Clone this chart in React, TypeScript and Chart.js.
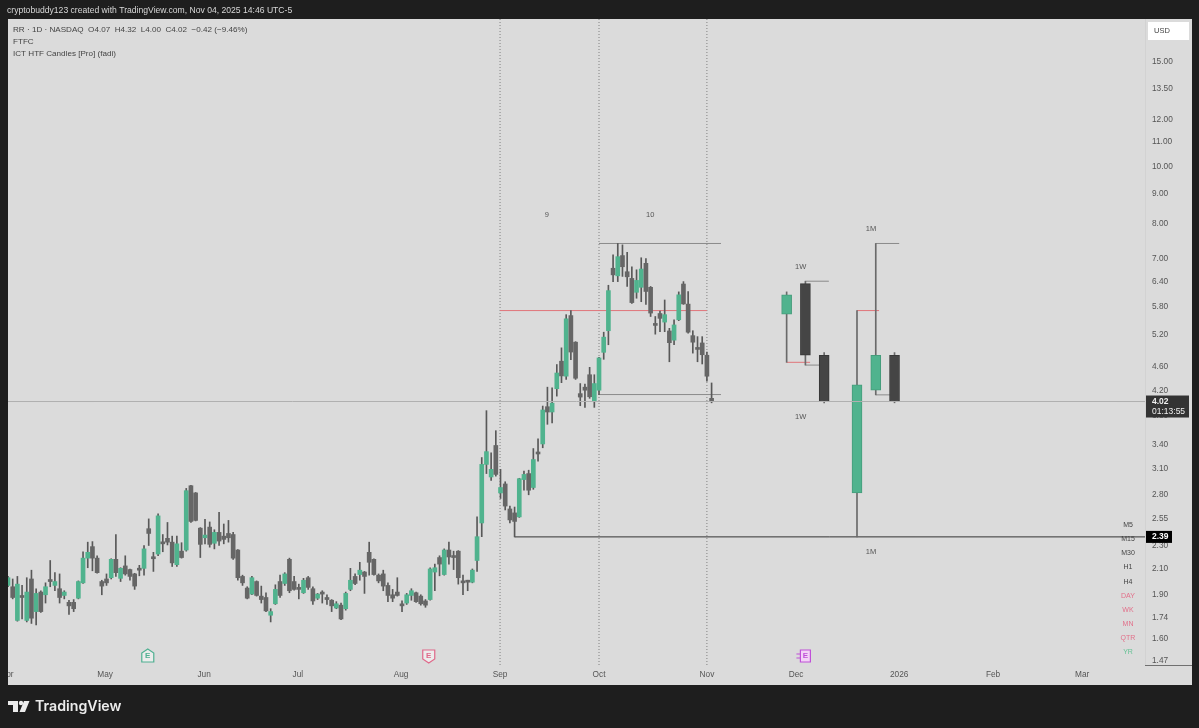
import React, { useEffect, useRef } from "react";
import { Chart, registerables } from "chart.js";

Chart.register(...registerables);

const opens = [
  1.97,1.96,1.72,1.89,1.72,2.02,1.78,1.92,1.90,2.01,
  1.97,1.945,1.895,1.845,1.845,1.875,1.99,2.19,2.29,2.19,
  2.00,2.02,2.03,2.18,2.025,2.125,2.095,2.06,2.10,2.105,
  2.455,2.195,2.225,2.325,2.365,2.33,2.135,2.25,2.26,2.90,
  2.82,2.46,2.37,2.47,2.32,2.42,2.385,2.41,2.40,2.26,
  2.04,1.95,1.905,2.00,1.89,1.88,1.755,1.835,2.00,1.985,
  2.18,2.00,1.95,1.915,2.03,1.945,1.875,1.91,1.88,1.86,
  1.805,1.825,1.80,1.94,2.04,2.055,2.075,2.24,2.18,2.05,
  2.06,1.97,1.90,1.92,1.825,1.84,1.895,1.915,1.89,1.855,
  1.865,2.075,2.195,2.055,2.26,2.205,2.25,2.00,2.005,1.995,
  2.17,2.51,3.15,3.00,3.39,2.82,2.92,2.65,2.61,2.57,
  2.97,3.04,2.88,3.295,3.41,3.94,3.86,4.225,4.70,4.435,
  5.61,5.06,4.145,4.25,4.46,4.02,4.20,4.865,5.29,6.74,
  6.545,7.08,6.65,6.48,6.14,6.26,6.87,6.26,5.44,5.655,
  5.47,5.285,5.10,5.52,6.34,5.865,5.19,4.955,5.045,4.81,
  4.07,
];
const closes = [
  2.03,1.88,1.98,1.88,1.92,1.735,1.91,1.78,1.96,2.00,
  2.00,1.88,1.92,1.82,1.80,2.00,2.19,2.24,2.19,2.07,
  1.965,1.99,2.18,2.07,2.105,2.06,2.04,1.965,2.09,2.27,
  2.41,2.185,2.58,2.315,2.33,2.15,2.315,2.195,2.845,2.525,
  2.535,2.31,2.395,2.31,2.42,2.34,2.355,2.37,2.19,2.03,
  1.99,1.875,2.03,1.895,1.865,1.785,1.78,1.94,1.895,2.06,
  1.93,1.94,1.94,2.01,1.955,1.855,1.905,1.905,1.865,1.82,
  1.835,1.73,1.91,2.01,1.985,2.09,2.04,2.155,2.055,2.005,
  1.965,1.895,1.875,1.895,1.82,1.90,1.93,1.85,1.835,1.825,
  2.10,2.11,2.14,2.26,2.20,2.195,2.03,1.99,1.995,2.09,
  2.38,3.15,3.31,3.09,3.03,2.88,2.68,2.54,2.525,2.98,
  3.03,2.85,3.21,3.28,3.89,3.86,3.995,4.49,4.44,5.54,
  4.87,4.40,4.09,4.20,4.095,4.31,4.76,5.16,6.18,6.57,
  7.05,6.78,6.52,5.90,6.43,6.72,6.16,5.665,5.40,5.55,
  5.63,5.05,5.41,6.08,5.87,5.26,5.06,4.92,4.82,4.435,
  4.02,
];
const highs = [
  2.04,2.02,2.04,1.97,2.03,2.09,1.945,1.93,1.99,2.17,
  2.07,2.06,1.93,1.86,1.865,2.005,2.245,2.33,2.335,2.21,
  2.01,2.06,2.185,2.40,2.11,2.21,2.10,2.065,2.13,2.30,
  2.55,2.24,2.60,2.40,2.515,2.385,2.385,2.325,2.87,2.905,
  2.825,2.465,2.545,2.52,2.445,2.615,2.50,2.535,2.42,2.265,
  2.05,1.96,2.04,2.005,1.965,1.915,1.80,1.975,2.05,2.07,
  2.19,2.04,1.98,2.025,2.04,1.96,1.91,1.93,1.90,1.865,
  1.85,1.84,1.92,2.105,2.06,2.155,2.08,2.33,2.185,2.06,
  2.09,1.99,1.94,2.03,1.855,1.91,1.945,1.92,1.90,1.865,
  2.11,2.14,2.21,2.27,2.33,2.25,2.255,2.05,2.01,2.10,
  2.57,3.235,3.88,3.295,3.59,3.09,2.945,2.68,2.67,2.985,
  3.07,3.08,3.35,3.48,3.95,4.25,4.24,4.64,4.95,5.63,
  5.72,5.07,4.31,4.30,4.59,4.46,4.77,5.26,6.31,7.10,
  7.42,7.38,7.17,6.78,6.70,7.02,7.00,6.28,5.59,5.71,
  5.96,5.34,5.52,6.15,6.40,6.16,5.29,5.17,5.17,4.87,
  4.32,
];
const lows = [
  1.96,1.87,1.715,1.73,1.71,1.70,1.69,1.775,1.84,1.96,
  1.93,1.84,1.87,1.76,1.78,1.87,1.985,2.11,2.085,2.065,
  1.90,1.97,2.02,2.04,2.00,2.05,2.01,1.94,2.045,2.05,
  2.30,2.08,2.21,2.245,2.305,2.12,2.12,2.19,2.25,2.515,
  2.53,2.195,2.315,2.285,2.27,2.30,2.315,2.33,2.18,2.01,
  1.97,1.87,1.90,1.89,1.84,1.78,1.71,1.83,1.88,1.97,
  1.915,1.935,1.87,1.91,1.94,1.83,1.865,1.84,1.83,1.78,
  1.80,1.725,1.79,1.93,1.975,2.01,1.91,2.05,2.05,1.99,
  1.93,1.85,1.85,1.89,1.78,1.83,1.86,1.845,1.825,1.81,
  1.86,1.93,2.045,2.05,2.14,2.095,1.98,1.90,1.93,1.99,
  2.08,2.38,3.04,2.96,3.01,2.76,2.64,2.51,2.378,2.565,
  2.85,2.80,2.86,3.19,3.36,3.68,3.70,4.105,4.325,4.38,
  4.73,4.38,3.955,3.93,4.07,3.93,4.13,4.735,5.01,6.40,
  6.40,6.53,6.28,5.88,6.00,5.92,5.86,5.59,5.22,5.27,
  5.27,4.69,5.01,5.50,5.86,5.24,4.85,4.69,4.65,4.35,
  4.00,
];

// Higher-timeframe candles from the "ICT HTF Candles" indicator
const htfBars = [166, 170, 174, 181, 185, 189];
const htfOpens = [5.64, 6.35, 4.81, 2.82, 4.2, 4.81];
const htfCloses = [6.08, 4.81, 4.02, 4.29, 4.81, 4.02];
const htfHighs = [6.15, 6.41, 4.86, 5.72, 7.42, 4.86];
const htfLows = [4.68, 4.63, 4.0, 2.378, 4.125, 4.0];

const priceTicks = [15, 13.5, 12, 11, 10, 9, 8, 7, 6.4, 5.8, 5.2, 4.6, 4.2, 3.8, 3.4, 3.1, 2.8, 2.55, 2.3, 2.1, 1.9, 1.74, 1.6, 1.47];
const monthLabels = ["Apr", "May", "Jun", "Jul", "Aug", "Sep", "Oct", "Nov", "Dec", "2026", "Feb", "Mar"];
const monthBars = [-0.2, 20.7, 41.8, 61.8, 83.8, 104.9, 126, 149, 168, 190, 210, 229];

const sessionBars = [104.9, 126, 149];
const lastClose = 4.02;
const swingLow = 2.378;
const swingLowTag = "2.39";
const swingLowBar = 108;

const grayLevelPrices = [7.42, 4.13, 6.41, 4.63, 7.42, 4.125];
const grayLevelFrom = [126, 126, 170, 170, 185, 185];
const grayLevelTo = [152, 152, 175, 174, 190, 189];
const redLevelPrices = [5.72, 4.68, 5.72];
const redLevelFrom = [104.9, 166, 181];
const redLevelTo = [149, 171, 185.7];

const timeframes = ["M5", "M15", "M30", "H1", "H4", "DAY", "WK", "MN", "QTR", "YR"];
const noteLabels = ["9", "10", "1W", "1W", "1M", "1M"];
const noteBars = [114.9, 136.9, 169, 169, 184, 184];
const notePrices = [8.285, 8.285, 6.77, 3.78, 7.85, 2.244];
const earningsBars = [29.8, 89.7, 170];

const BAR_MIN = 0;
const BAR_MAX = 242.4;
const PRICE_MIN = 1.447;
const PRICE_MAX = 17.72;

const FRAME = "#1e1e1e";
const PANEL = "#dbdbdb";
const UP = "#50b38e";
const DOWN = "#666666";
const FONT = '"Liberation Sans", Arial, sans-serif';

const levelLine = (from: number, to: number, price: number, color: string, extra: object = {}) => ({
  type: "line" as const,
  data: [{ x: from, y: price }, { x: to, y: price }],
  borderColor: color,
  borderWidth: 1,
  pointRadius: 0,
  order: 4,
  ...extra,
});

const framePlugin = {
  id: "frame",
  beforeDraw(chart: any) {
    const { ctx, width, height } = chart;
    ctx.save();
    ctx.fillStyle = FRAME;
    ctx.fillRect(0, 0, width, height);
    ctx.fillStyle = PANEL;
    ctx.fillRect(8, 19, 1184, 666);
    ctx.restore();
  },
  afterDraw(chart: any) {
    const { ctx, scales } = chart;
    const x = scales.x;
    const y = scales.y;
    ctx.save();

    // cover the part of the first month label that leaves the panel
    ctx.fillStyle = FRAME;
    ctx.fillRect(0, 19, 8, 666);

    // right axis edge
    ctx.strokeStyle = "#d2d2d2";
    ctx.beginPath();
    ctx.moveTo(1145.5, 19);
    ctx.lineTo(1145.5, 665);
    ctx.stroke();
    ctx.strokeStyle = "#707070";
    ctx.beginPath();
    ctx.moveTo(1145, 665.5);
    ctx.lineTo(1192, 665.5);
    ctx.stroke();

    ctx.textBaseline = "middle";
    ctx.textAlign = "left";

    // header
    ctx.fillStyle = "#d8d8d8";
    ctx.font = `8.6px ${FONT}`;
    ctx.fillText("cryptobuddy123 created with TradingView.com, Nov 04, 2025 14:46 UTC-5", 7, 11);

    // legend
    ctx.fillStyle = "#444444";
    ctx.font = `8.1px ${FONT}`;
    ctx.fillText("RR · 1D · NASDAQ  O4.07  H4.32  L4.00  C4.02  −0.42 (−9.46%)", 13, 30);
    ctx.fillText("FTFC", 13, 42);
    ctx.fillText("ICT HTF Candles [Pro] (fadi)", 13, 54);

    // notes anchored to the scales
    ctx.textAlign = "center";
    ctx.font = `7.5px ${FONT}`;
    ctx.fillStyle = "#555";
    noteLabels.forEach((t, i) => {
      ctx.fillText(t, x.getPixelForValue(noteBars[i]), y.getPixelForValue(notePrices[i]));
    });

    // timeframe list
    ctx.font = `7px ${FONT}`;
    timeframes.forEach((t, i) => {
      ctx.fillStyle = i < 5 ? "#444" : i < 9 ? "#e2708a" : "#66c295";
      ctx.fillText(t, 1128, 525 + i * 14.15);
    });

    // USD box
    ctx.fillStyle = "#ffffff";
    ctx.fillRect(1148, 22, 41, 18);
    ctx.fillStyle = "#444";
    ctx.textAlign = "left";
    ctx.font = `7.5px ${FONT}`;
    ctx.fillText("USD", 1154, 31);

    // price tags
    const lastY = y.getPixelForValue(lastClose);
    ctx.fillStyle = "#333333";
    ctx.fillRect(1146, lastY - 6, 43, 22);
    ctx.fillStyle = "#f0f0f0";
    ctx.font = `bold 8.5px ${FONT}`;
    ctx.fillText(lastClose.toFixed(2), 1152, lastY);
    ctx.font = `8.5px ${FONT}`;
    ctx.fillText("01:13:55", 1152, lastY + 10);

    const lowY = y.getPixelForValue(swingLow);
    ctx.fillStyle = "#000000";
    ctx.fillRect(1146, lowY - 6, 26, 12);
    ctx.fillStyle = "#ffffff";
    ctx.font = `bold 8.5px ${FONT}`;
    ctx.fillText(swingLowTag, 1152, lowY);

    // earnings badges
    const colors = ["#4fb091", "#e0688a", "#c050d8"];
    earningsBars.forEach((b, i) => {
      const cx = x.getPixelForValue(b);
      const cy = 656;
      ctx.fillStyle = i === 2 ? "#f3d2f6" : "#ececec";
      ctx.strokeStyle = colors[i];
      ctx.lineWidth = 1.2;
      ctx.beginPath();
      if (i === 0) {
        ctx.moveTo(cx, cy - 7);
        ctx.lineTo(cx + 6, cy - 3);
        ctx.lineTo(cx + 6, cy + 6);
        ctx.lineTo(cx - 6, cy + 6);
        ctx.lineTo(cx - 6, cy - 3);
      } else if (i === 1) {
        ctx.moveTo(cx - 6, cy - 6);
        ctx.lineTo(cx + 6, cy - 6);
        ctx.lineTo(cx + 6, cy + 3);
        ctx.lineTo(cx, cy + 7);
        ctx.lineTo(cx - 6, cy + 3);
      } else {
        ctx.moveTo(cx - 5, cy - 6);
        ctx.lineTo(cx + 5, cy - 6);
        ctx.lineTo(cx + 5, cy + 6);
        ctx.lineTo(cx - 5, cy + 6);
      }
      ctx.closePath();
      ctx.fill();
      ctx.stroke();
      if (i === 2) {
        ctx.beginPath();
        ctx.moveTo(cx - 9, cy - 2);
        ctx.lineTo(cx - 5, cy - 2);
        ctx.moveTo(cx - 9, cy + 2);
        ctx.lineTo(cx - 5, cy + 2);
        ctx.stroke();
      }
      ctx.fillStyle = colors[i];
      ctx.textAlign = "center";
      ctx.font = `bold 8px ${FONT}`;
      ctx.fillText("E", cx, cy);
    });

    // wordmark
    ctx.fillStyle = "#ececec";
    ctx.fillRect(8, 701, 10, 4);
    ctx.fillRect(13, 701, 5, 11);
    ctx.beginPath();
    ctx.arc(21, 703, 2.2, 0, Math.PI * 2);
    ctx.fill();
    ctx.beginPath();
    ctx.moveTo(24, 701);
    ctx.lineTo(29.5, 701);
    ctx.lineTo(25, 712);
    ctx.lineTo(19.5, 712);
    ctx.closePath();
    ctx.fill();
    ctx.textAlign = "left";
    ctx.font = '600 14.2px Inter, "Liberation Sans", sans-serif';
    ctx.fillText("TradingView", 35, 707);
    ctx.restore();
  },
};

export default function App() {
  const ref = useRef<HTMLCanvasElement | null>(null);

  useEffect(() => {
    document.body.style.margin = "0";
    if (!ref.current) return;
    const bars = opens.map((_, i) => i);
    const wickColor = "#585858";

    const chart = new Chart(ref.current, {
      type: "bar",
      data: {
        datasets: [
          {
            data: bars.map((i) => ({ x: i, y: [opens[i], closes[i]] })),
            grouped: false,
            barThickness: 4,
            minBarLength: 2,
            borderWidth: 0,
            borderSkipped: false,
            backgroundColor: bars.map((i) => (closes[i] >= opens[i] ? UP : DOWN)),
            order: 1,
          },
          {
            data: bars.map((i) => ({ x: i, y: [lows[i], highs[i]] })),
            grouped: false,
            barThickness: 1,
            borderWidth: 0,
            backgroundColor: wickColor,
            order: 2,
          },
          {
            data: htfBars.map((b, i) => ({ x: b, y: [htfOpens[i], htfCloses[i]] })),
            grouped: false,
            barThickness: 10,
            borderWidth: 1,
            borderSkipped: false,
            backgroundColor: htfBars.map((_, i) => (htfCloses[i] >= htfOpens[i] ? "#50b38e" : "#454545")),
            borderColor: htfBars.map((_, i) => (htfCloses[i] >= htfOpens[i] ? "#459c7b" : "#383838")),
            order: 1,
          },
          {
            data: htfBars.map((b, i) => ({ x: b, y: [htfLows[i], htfHighs[i]] })),
            grouped: false,
            barThickness: 1,
            borderWidth: 0,
            backgroundColor: "#6a6a6a",
            order: 2,
          },
          ...sessionBars.map((b) => ({
            type: "line" as const,
            data: [{ x: b, y: PRICE_MIN }, { x: b, y: PRICE_MAX }],
            borderColor: "#808080",
            borderWidth: 1,
            borderDash: [1, 2],
            pointRadius: 0,
            order: 5,
          })),
          levelLine(BAR_MIN, BAR_MAX, lastClose, "#b0b0b0", { order: 0 }),
          levelLine(swingLowBar, BAR_MAX, swingLow, "#333333"),
          ...grayLevelPrices.map((p, i) => levelLine(grayLevelFrom[i], grayLevelTo[i], p, "#8a8a8a")),
          ...redLevelPrices.map((p, i) => levelLine(redLevelFrom[i], redLevelTo[i], p, "#e0757a")),
        ] as any,
      },
      options: {
        animation: false,
        responsive: false,
        layout: { padding: { left: 8, top: 19, right: 7, bottom: 43 } },
        plugins: { legend: { display: false }, tooltip: { enabled: false } },
        scales: {
          x: {
            type: "linear",
            min: BAR_MIN,
            max: BAR_MAX,
            offset: false,
            grid: { display: false, drawTicks: false },
            border: { display: false },
            afterBuildTicks(scale: any) {
              scale.ticks = monthBars.map((value) => ({ value }));
            },
            afterFit(scale: any) {
              scale.height = 20;
              scale.paddingLeft = 0;
              scale.paddingRight = 0;
            },
            ticks: {
              autoSkip: false,
              maxRotation: 0,
              padding: 5,
              color: "#555555",
              font: { size: 8.3, family: FONT },
              callback: (_v: any, i: number) => monthLabels[i],
            },
          },
          y: {
            type: "logarithmic",
            position: "right",
            min: PRICE_MIN,
            max: PRICE_MAX,
            bounds: "data",
            grid: { display: false, drawTicks: false },
            border: { display: false },
            afterBuildTicks(scale: any) {
              scale.ticks = priceTicks.map((value) => ({ value }));
            },
            afterFit(scale: any) {
              scale.width = 47;
              scale.paddingTop = 0;
              scale.paddingBottom = 0;
            },
            ticks: {
              autoSkip: false,
              padding: 7,
              color: "#555555",
              font: { size: 8.3, family: FONT },
              callback: (v: any) => Number(v).toFixed(2),
            },
          },
        },
      } as any,
      plugins: [framePlugin],
    });
    return () => chart.destroy();
  }, []);

  return <canvas ref={ref} width={1199} height={728} style={{ display: "block" }} />;
}
